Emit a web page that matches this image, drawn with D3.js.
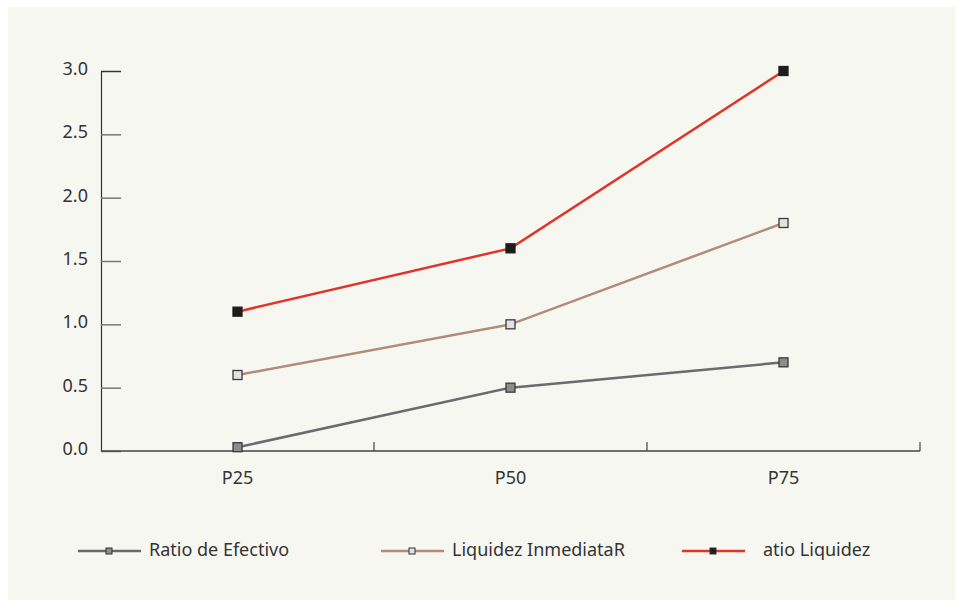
<!DOCTYPE html>
<html>
<head>
<meta charset="utf-8">
<script src="https://cdn.jsdelivr.net/npm/d3@7"></script>
<style>
  html, body { margin: 0; padding: 0; background: #ffffff; }
  svg { display: block; }
  text { font-family: "Noto Sans", Lato, sans-serif; fill: #333333; }
</style>
</head>
<body>
<svg id="chart" width="964" height="607"></svg>
<script>
// Percentile categories along the x axis
const categories = ["P25", "P50", "P75"];

// Series values per percentile
const ratioEfectivo = [0.03, 0.5, 0.7];
const liquidezInmediata = [0.6, 1.0, 1.8];
const ratioLiquidez = [1.1, 1.6, 3.0];

// Y tick values
const yTicks = [0, 0.5, 1.0, 1.5, 2.0, 2.5, 3.0];

// Legend labels
const seriesNames = ["Ratio de Efectivo", "Liquidez InmediataR", "atio Liquidez"];

const series = [
  { name: seriesNames[0], values: ratioEfectivo, line: "#6b6a70", fill: "#8c8c8c", stroke: "#3a3a3a", keyFill: "#8c8c8c", textDx: 71 },
  { name: seriesNames[1], values: liquidezInmediata, line: "#b48a78", fill: "#e2e2e2", stroke: "#3a3a3a", keyFill: "#e2e2e2", textDx: 71 },
  { name: seriesNames[2], values: ratioLiquidez, line: "#e0352b", fill: "#1e1c1d", stroke: "#1e1c1d", keyFill: "#1e1c1d", textDx: 81 }
];

const svg = d3.select("#chart");

// Panel background
svg.append("rect")
  .attr("x", 8).attr("y", 7)
  .attr("width", 947).attr("height", 593)
  .attr("fill", "#f7f7f2");

const plot = { left: 101, right: 920, top: 71, bottom: 451 };

const x = d3.scaleBand().domain(categories).range([plot.left, plot.right]).padding(0);
const y = d3.scaleLinear().domain([0, 3]).range([plot.bottom, plot.top]);

// Y axis: ticks point inward (right), labels on the left
const yAxis = d3.axisRight(y).tickValues(yTicks).tickSize(20).tickFormat(d3.format(".1f"));
const gy = svg.append("g").attr("transform", `translate(${plot.left},0)`).call(yAxis);
gy.select(".domain").attr("stroke", "#333").attr("stroke-width", 1.2);
gy.selectAll(".tick line").attr("stroke", (d) => d === 3 ? "#333" : "#777").attr("stroke-width", 1.5);
gy.selectAll(".tick text")
  .attr("x", -13).attr("dy", "0.2em")
  .attr("text-anchor", "end")
  .style("font-size", "18px").style("fill", "#333");

// X axis baseline with separators between categories
const gx = svg.append("g").attr("transform", `translate(0,${plot.bottom})`);
gx.append("line")
  .attr("x1", plot.left).attr("x2", plot.right)
  .attr("y1", 0).attr("y2", 0)
  .attr("stroke", "#444").attr("stroke-width", 1.5);
gx.selectAll("line.sep")
  .data(categories)
  .join("line")
  .attr("class", "sep")
  .attr("x1", (d) => x(d) + x.bandwidth())
  .attr("x2", (d) => x(d) + x.bandwidth())
  .attr("y1", 0).attr("y2", -9)
  .attr("stroke", "#444").attr("stroke-width", 1.2);
gx.selectAll("text")
  .data(categories)
  .join("text")
  .attr("x", (d) => x(d) + x.bandwidth() / 2)
  .attr("y", 33)
  .attr("text-anchor", "middle")
  .style("font-size", "18px")
  .text((d) => d);

const cx = (d, i) => x(categories[i]) + x.bandwidth() / 2;
const line = d3.line().x((d, i) => cx(d, i)).y((d) => y(d));

const ms = 9;
series.forEach((s) => {
  svg.append("path")
    .datum(s.values)
    .attr("d", line)
    .attr("fill", "none")
    .attr("stroke", s.line)
    .attr("stroke-width", 2.5);
  svg.append("g").selectAll("rect")
    .data(s.values)
    .join("rect")
    .attr("x", (d, i) => cx(d, i) - ms / 2)
    .attr("y", (d) => y(d) - ms / 2)
    .attr("width", ms).attr("height", ms)
    .attr("fill", s.fill)
    .attr("stroke", s.stroke)
    .attr("stroke-width", 1.3);
});

// Legend
const legendX = [78, 381, 682];
const legend = svg.append("g").attr("transform", "translate(0,551)");
series.forEach((s, i) => {
  const g = legend.append("g").attr("transform", `translate(${legendX[i]},0)`);
  g.append("line").attr("x1", 0).attr("x2", 63).attr("y1", 0).attr("y2", 0)
    .attr("stroke", s.line).attr("stroke-width", 2.5);
  g.append("rect").attr("x", 28).attr("y", -3).attr("width", 6).attr("height", 6)
    .attr("fill", s.keyFill)
    .attr("stroke", "#333").attr("stroke-width", 1);
  g.append("text").attr("x", s.textDx).attr("y", 0).attr("dy", "0.28em")
    .style("font-size", "18px")
    .text(s.name);
});
</script>
</body>
</html>
